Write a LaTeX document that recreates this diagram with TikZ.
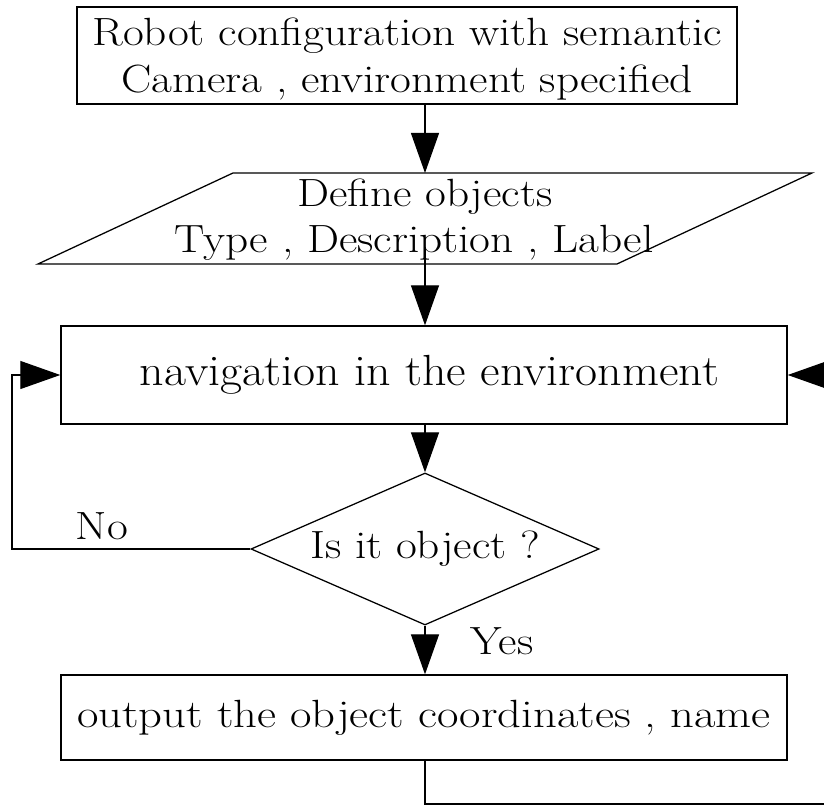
\documentclass[tikz,border=0pt]{standalone}
\usetikzlibrary{shapes.geometric,arrows.meta}
\newcommand{\wtxt}[1]{\scalebox{1.15}[1]{#1}}
\newcommand{\ntxt}[1]{\scalebox{1.1}[1]{#1}}
\begin{document}
\begin{tikzpicture}[x=0.025cm,y=-0.025cm,
  every node/.style={font=\fontsize{28}{34}\selectfont},
  box/.style={draw,line width=0.9pt,rectangle,inner sep=0pt,align=center},
  dec/.style={draw,line width=0.9pt,diamond,inner sep=0pt,aspect=2.28,minimum width=8.7cm,minimum height=3.8cm},
  conn/.style={line width=0.9pt,-{Triangle[length=1cm,width=0.7cm]}},
  plain/.style={line width=0.9pt},
  ptext/.style={inner sep=0pt,anchor=base}]
\useasboundingbox (0,0) rectangle (824,806);
% boxes
\node[box,minimum width=16.5cm,minimum height=2.425cm] (start) at (407,55.5)
  {\rule{0pt}{0.865cm}\wtxt{Robot configuration with semantic}\\ \wtxt{Camera , environment specified}};
% parallelogram
\coordinate (ptl) at (233,173);
\coordinate (ptr) at (812,173);
\coordinate (pbr) at (617,264);
\coordinate (pbl) at (38,264);
\draw[plain] (ptl) -- (ptr) -- (pbr) -- (pbl) -- cycle;
\node[ptext] (def1) at (425,207) {\wtxt{Define objects}};
\node[ptext] (def2) at (414,253) {\wtxt{Type , Description , Label}};
\coordinate (ptop) at (425,173);
\coordinate (pbot) at (425,247);
\node[box,minimum width=18.15cm,minimum height=2.45cm,font=\fontsize{31}{36}\selectfont] (nav) at (424,375) {\hspace*{0.275cm}\ntxt{navigation in the environment}};
\node[dec] (obj) at (425,549) {\wtxt{Is it object ?}};
\node[box,minimum width=18.15cm,minimum height=2.125cm] (out) at (424,717.5) {\scalebox{1.185}[1]{output the object coordinates , name}};
\node[ptext] (no) at (102,540) {\wtxt{No}};
\node[ptext] (yes) at (502,655) {\wtxt{Yes}};
% connectors
\draw[conn] (start.south -| ptop) -- (ptop);
\draw[conn] (pbot) -- (pbot |- nav.north);
\draw[conn] (nav.south -| obj.north) -- (obj.north);
\draw[conn] (obj.south) -- (obj.south |- out.north);
\coordinate (lc) at (12,549);
\draw[conn] (obj.west) -- (lc) -- (lc |- nav.west) -- (nav.west);
\coordinate (bc) at (425,804);
\coordinate (rc) at (850,804);
\coordinate (rt) at (826,375);
\draw[plain] (bc |- out.south) -- (bc) -- (rc);
\draw[conn] (rt) -- (nav.east);
\end{tikzpicture}
\end{document}
